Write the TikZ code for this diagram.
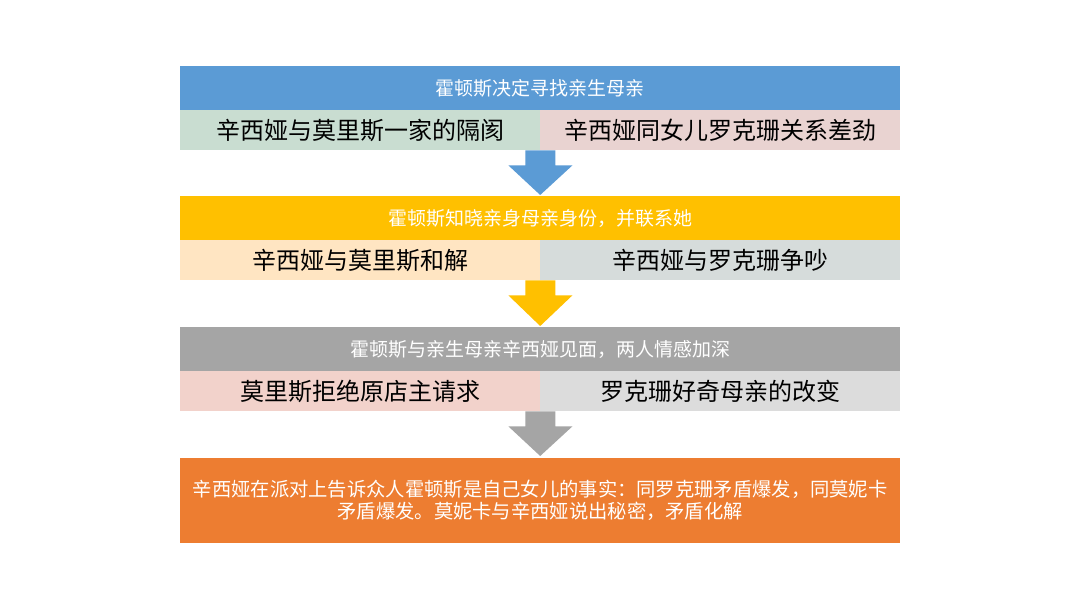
\documentclass[tikz,border=0pt]{standalone}
\usepackage{fontspec}
\setmainfont{Noto Sans CJK SC}
\usetikzlibrary{calc}
\definecolor{cblue}{HTML}{5B9BD5}
\definecolor{cyel}{HTML}{FFC000}
\definecolor{cgray}{HTML}{A5A5A5}
\definecolor{corange}{HTML}{ED7D31}
\definecolor{sgreen}{HTML}{C9DDD1}
\definecolor{spink}{HTML}{E9D3D1}
\definecolor{speach}{HTML}{FFE5C2}
\definecolor{sgray}{HTML}{D6DCDB}
\definecolor{srose}{HTML}{F2D2CB}
\definecolor{slgray}{HTML}{DCDCDC}
\begin{document}
\begin{tikzpicture}[x=1pt,y=-1pt,
  hdr/.style={anchor=north west,inner sep=0pt,minimum width=720pt,minimum height=44pt,text=white,font=\fontsize{19}{22}\selectfont},
  sub/.style={anchor=north west,inner sep=0pt,minimum width=360pt,minimum height=40pt,text=black,font=\fontsize{24}{28}\selectfont},
  fin/.style={anchor=north west,inner sep=0pt,minimum width=720pt,minimum height=85pt,text=white,align=center,font=\fontsize{19.3}{22}\selectfont}]
\useasboundingbox (0,0) rectangle (1080,607);
\fill[white] (0,0) rectangle (1080,607);
% block 1
\node[hdr,fill=cblue] (h1) at (180,66) {霍顿斯决定寻找亲生母亲};
\node[sub,fill=sgreen] (l1) at (180,110) {辛西娅与莫里斯一家的隔阂};
\node[sub,fill=spink] (r1) at (540,110) {辛西娅同女儿罗克珊关系差劲};
% block 2
\node[hdr,fill=cyel] (h2) at (180,196) {霍顿斯知晓亲身母亲身份，并联系她};
\node[sub,fill=speach] (l2) at (180,240) {辛西娅与莫里斯和解};
\node[sub,fill=sgray] (r2) at (540,240) {辛西娅与罗克珊争吵};
% block 3
\node[hdr,fill=cgray] (h3) at (180,327) {霍顿斯与亲生母亲辛西娅见面，两人情感加深};
\node[sub,fill=srose] (l3) at (180,371) {莫里斯拒绝原店主请求};
\node[sub,fill=slgray] (r3) at (540,371) {罗克珊好奇母亲的改变};
% block 4
\node[fin,fill=corange] (h4) at (180,458) {辛西娅在派对上告诉众人霍顿斯是自己女儿的事实：同罗克珊矛盾爆发，同莫妮卡\\矛盾爆发。莫妮卡与辛西娅说出秘密，矛盾化解};
% arrows
\fill[cblue] ($(l1.south east)+(-15,0)$) -- ++(0,15) -- ++(-17,0) -- ($(h2.north)+(0,-1)$) -- ($(l1.south east)+(32,15)$) -- ++(-17,0) -- ++(0,-15) -- cycle;
\fill[cyel] ($(l2.south east)+(-15,0)$) -- ++(0,15) -- ++(-17,0) -- ($(h3.north)+(0,-1)$) -- ($(l2.south east)+(32,15)$) -- ++(-17,0) -- ++(0,-15) -- cycle;
\fill[cgray] ($(l3.south east)+(-15,0)$) -- ++(0,15) -- ++(-17,0) -- ($(h4.north)+(0,-2)$) -- ($(l3.south east)+(32,15)$) -- ++(-17,0) -- ++(0,-15) -- cycle;
\end{tikzpicture}
\end{document}
